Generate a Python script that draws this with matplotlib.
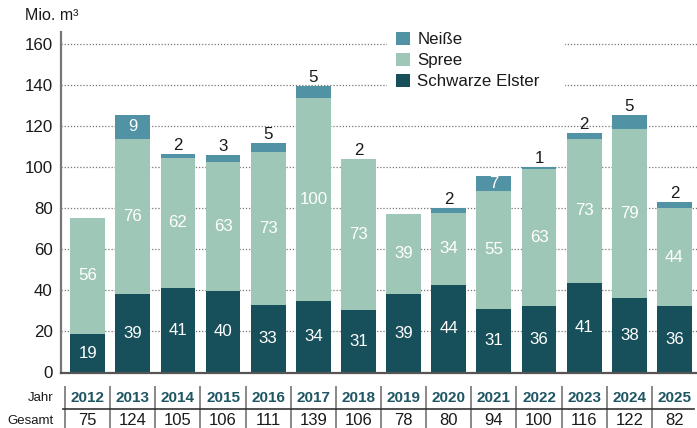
import matplotlib.pyplot as plt
import matplotlib.transforms as mtransforms
from matplotlib.patches import Rectangle
import numpy as np

plt.rcParams['font.family'] = ['Liberation Sans', 'DejaVu Sans']

## data (bar heights, labels as printed)
jahre = ['2012', '2013', '2014', '2015', '2016', '2017', '2018',
         '2019', '2020', '2021', '2022', '2023', '2024', '2025']
schwarze_elster = [18.8, 38.3, 41.2, 39.8, 32.9, 34.9, 30.5, 38.3, 42.7, 31.0, 32.4, 43.7, 36.3, 32.4]
spree = [56.6, 75.6, 63.4, 62.9, 74.7, 99.0, 73.6, 39.0, 35.1, 57.5, 66.9, 70.2, 82.5, 47.8]
neisse = [0, 11.7, 2.0, 3.4, 4.4, 5.9, 0, 0, 2.4, 7.4, 0.9, 2.9, 6.8, 3.0]

se_lbl = [19, 39, 41, 40, 33, 34, 31, 39, 44, 31, 36, 41, 38, 36]
spree_lbl = [56, 76, 62, 63, 73, 100, 73, 39, 34, 55, 63, 73, 79, 44]
neisse_lbl = [None, 9, 2, 3, 5, 5, 2, None, 2, 7, 1, 2, 5, 2]
gesamt = [75, 124, 105, 106, 111, 139, 106, 78, 80, 94, 100, 116, 122, 82]

c_se = '#17505a'
c_spree = '#9fc7b7'
c_neisse = '#5193a5'
c_txt = '#1a1a1a'

W, H = 697, 428
fig = plt.figure(figsize=(W / 100, H / 100), dpi=100)
ax = fig.add_axes([61 / W, (H - 372.5) / H, (W - 61) / W, 340.5 / H])

x = np.arange(len(jahre))
se = np.array(schwarze_elster)
sp = np.array(spree)
ne = np.array(neisse)
bw = 0.77

ax.bar(x, se, bw, color=c_se, label='Schwarze Elster', zorder=2)
ax.bar(x, sp, bw, bottom=se, color=c_spree, label='Spree', zorder=2)
ax.bar(x, ne, bw, bottom=se + sp, color=c_neisse, label='Neiße', zorder=2)

fs = 12.2
for i in range(len(x)):
    ax.text(x[i], se[i] / 2, str(se_lbl[i]), ha='center', va='center',
            color='white', fontsize=fs, zorder=3)
    ax.text(x[i], se[i] + sp[i] / 2, str(spree_lbl[i]), ha='center', va='center',
            color='white', fontsize=fs, zorder=3)
    if neisse_lbl[i] is None:
        continue
    top = se[i] + sp[i] + ne[i]
    if neisse_lbl[i] >= 7:
        ax.text(x[i], top - ne[i] / 2, str(neisse_lbl[i]), ha='center', va='center',
                color='white', fontsize=fs, zorder=3)
    else:
        ax.annotate(str(neisse_lbl[i]), (x[i], top), xytext=(0, 6), textcoords='offset points',
                    ha='center', va='center', color=c_txt, fontsize=fs, zorder=3)

ax.set_xlim(-0.59, 13.5)
ax.set_ylim(0, 166)
ax.set_yticks(np.arange(0, 161, 20))
ax.set_xticks([])
ax.tick_params(axis='y', length=0, pad=6, labelsize=fs, labelcolor=c_txt)
ax.yaxis.grid(True, linestyle=(0, (1, 1.5)), color='#777777', linewidth=0.9, zorder=0)
ax.set_axisbelow(True)
for s in ['top', 'right']:
    ax.spines[s].set_visible(False)
ax.spines['left'].set_color('#777777')
ax.spines['left'].set_linewidth(1.6)
ax.spines['bottom'].set_color('#555555')
ax.spines['bottom'].set_linewidth(1.6)

## white box behind the legend (breaks the grid lines)
ax.add_patch(Rectangle((387 / W, 1 - 92 / H), (565 - 387) / W, 66 / H,
                       transform=fig.transFigure, facecolor='white', edgecolor='none', zorder=1))

h, l = ax.get_legend_handles_labels()
leg = ax.legend(h[::-1], l[::-1], loc='upper left',
                bbox_to_anchor=(391 / W, 1 - 27 / H), bbox_transform=fig.transFigure,
                frameon=False, fontsize=fs, handlelength=0.8, handleheight=0.8,
                handletextpad=0.45, labelspacing=0.33, borderpad=0.3, borderaxespad=0)
leg.set_zorder(5)
for t in leg.get_texts():
    t.set_color(c_txt)

## unit label
fig.text(25 / W, 1 - 15 / H, 'Mio. m³', ha='left', va='center', fontsize=11.5, color=c_txt)

## table below the chart
tr = mtransforms.blended_transform_factory(ax.transData, fig.transFigure)
for i in range(len(x)):
    ax.text(x[i], (H - 398) / H, jahre[i], transform=tr, ha='center', va='center',
            fontsize=11, fontweight='bold', color='#1e5663', clip_on=False)
    ax.text(x[i], (H - 420.5) / H, str(gesamt[i]), transform=tr, ha='center', va='center',
            fontsize=12, color=c_txt, clip_on=False)
    ax.plot([x[i] - 0.5, x[i] - 0.5], [(H - 387) / H, 0], transform=tr, color='#888888',
            linewidth=1.4, clip_on=False)
fig.add_artist(plt.Line2D([63 / W, 694 / W], [(H - 409.3) / H] * 2, color='#333333', linewidth=1.2))
fig.text(53.5 / W, (H - 398) / H, 'Jahr', ha='right', va='center', fontsize=9.5, color=c_txt)
fig.text(53.5 / W, (H - 420.5) / H, 'Gesamt', ha='right', va='center', fontsize=9.5, color=c_txt)

fig.savefig('out.png', dpi=100)
